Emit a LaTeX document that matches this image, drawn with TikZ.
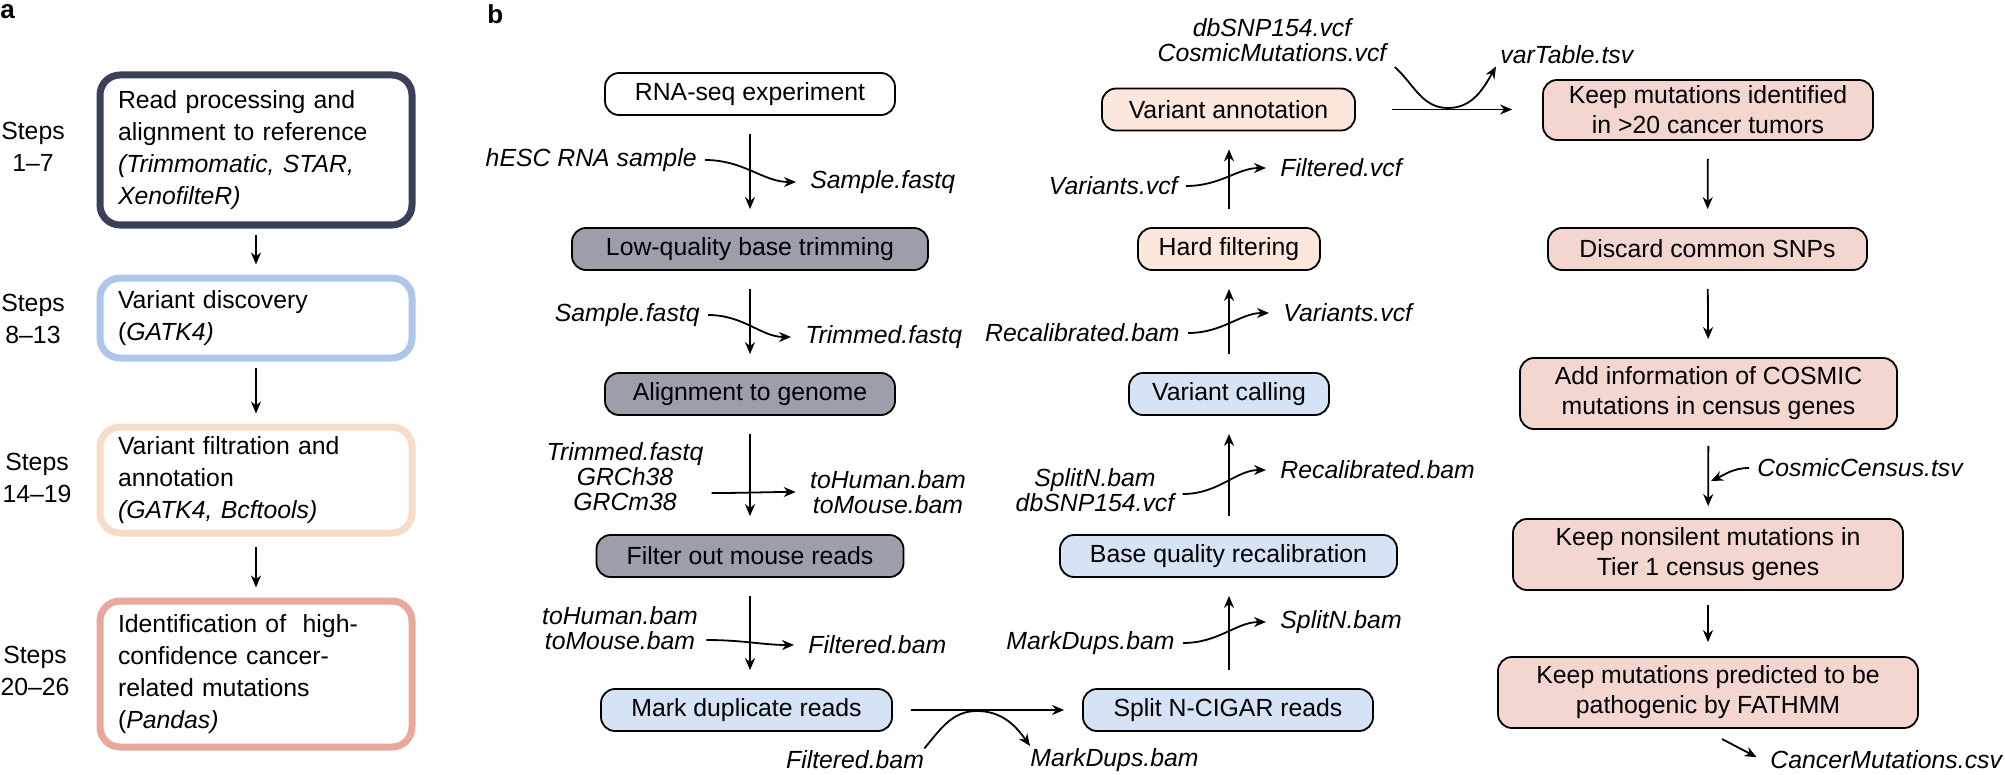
\documentclass[tikz,border=0pt]{standalone}
\usepackage{fontspec}
\setmainfont{Liberation Sans}
\usetikzlibrary{arrows.meta}
\definecolor{navy}{HTML}{3A3F5A}
\definecolor{ablue}{HTML}{ADC6EA}
\definecolor{apeach}{HTML}{F7DCC7}
\definecolor{asalmon}{HTML}{E8A99C}
\definecolor{fgray}{HTML}{9C9FAA}
\definecolor{fblue}{HTML}{D6E3F5}
\definecolor{fpeach}{HTML}{FBE7DC}
\definecolor{fpink}{HTML}{F3D6D0}
\begin{document}
\begin{tikzpicture}[x=0.5pt,y=-0.5pt,
  font=\fontsize{12.4}{12.5}\selectfont,
  abox/.style={draw,rounded corners=10pt,line width=3.5pt,minimum width=156pt,inner xsep=9pt,inner ysep=0pt,text width=138pt,align=left,font=\fontsize{12.4}{16}\selectfont},
  box/.style={draw,rounded corners=7pt,line width=0.9pt,inner sep=0pt,minimum height=21pt,align=center},
  rbox/.style={box,fill=fpink,font=\fontsize{12.4}{15}\selectfont},
  lab/.style={font=\fontsize{12.4}{12.5}\selectfont\itshape,inner xsep=4pt,inner ysep=1pt,align=center},
  flow/.style={-{Stealth[length=6pt,width=5pt]},line width=0.9pt,shorten <=9pt,shorten >=9pt},
  side/.style={-{Stealth[length=6pt,width=5pt]},line width=0.9pt},
  steps/.style={align=center,font=\fontsize{12.4}{16}\selectfont}]
\useasboundingbox (0,0) rectangle (2005,775);
% panel labels
\node[anchor=north west,inner sep=0pt,font=\fontsize{13}{13}\selectfont\bfseries] (pa) at (0,4) {a};
\node[anchor=north west,inner sep=0pt,font=\fontsize{13}{13}\selectfont\bfseries] (pb) at (487,4) {b};
% panel a
\node[abox,draw=navy,minimum height=75pt] (a1) at (256,150) {Read processing and\\alignment to reference\\\textit{(Trimmomatic, STAR,}\\\textit{XenofilteR)}};
\node[abox,draw=ablue,minimum height=40pt] (a2) at (256,318) {Variant discovery\\(\textit{GATK4)}};
\node[abox,draw=apeach,minimum height=53pt] (a3) at (256,480) {Variant filtration and\\annotation\\\textit{(GATK4, Bcftools)}};
\node[abox,draw=asalmon,minimum height=73pt] (a4) at (256,674) {Identification of\ \ high-\\confidence cancer-\\related mutations\\(\textit{Pandas)}};
\node[steps] (s1) at (33,147) {Steps\\1--7};
\node[steps] (s2) at (33,319) {Steps\\8--13};
\node[steps] (s3) at (37,478) {Steps\\14--19};
\node[steps] (s4) at (35,671) {Steps\\20--26};
\draw[flow,shorten <=3pt,shorten >=5pt] (a1) -- (a2);
\draw[flow,shorten <=3pt,shorten >=5pt] (a2) -- (a3);
\draw[flow,shorten <=5pt,shorten >=5pt] (a3) -- (a4);
% column 1
\node[box,fill=white,minimum width=145pt] (c1) at (750,94) {RNA-seq experiment};
\node[box,fill=fgray,minimum width=178pt] (c2) at (750,249) {Low-quality base trimming};
\node[box,fill=fgray,minimum width=145pt] (c3) at (750,394) {Alignment to genome};
\node[box,fill=fgray,minimum width=153.5pt] (c4) at (750,556) {Filter out mouse reads};
\node[box,fill=fblue,minimum width=145.5pt] (c5) at (746.5,710) {Mark duplicate reads};
\draw[flow] (c1) -- (c2);
\draw[flow] (c2) -- (c3);
\draw[flow] (c3) -- (c4);
\draw[flow] (c4.south) -- (c4.south |- c5.north);
\node[lab,anchor=east] (i1) at (705,160) {hESC RNA sample};
\node[lab,anchor=west] (o1) at (802,182) {Sample.fastq};
\node[lab,anchor=east] (i2) at (708,315) {Sample.fastq};
\node[lab,anchor=west] (o2) at (797,337) {Trimmed.fastq};
\node[lab] (i3) at (625,477) {Trimmed.fastq\\GRCh38\\GRCm38};
\node[lab] (o3) at (888,492) {toHuman.bam\\toMouse.bam};
\node[lab] (i4) at (620,628) {toHuman.bam\\toMouse.bam};
\node[lab,anchor=west] (o4) at (800,645) {Filtered.bam};
\draw[side,shorten >=3pt] (i1.east) to[out=0,in=180] (o1.west);
\draw[side,shorten >=3pt] (i2.east) to[out=0,in=180] (o2.west);
\draw[side,shorten >=3pt] ([yshift=-8]i3.east) to[out=0,in=180] (o3.west);
\draw[side,shorten >=3pt] ([yshift=-6]i4.east) to[out=0,in=180] (o4.west);
% column 2
\node[box,fill=fblue,minimum width=145pt] (d1) at (1228,710) {Split N-CIGAR reads};
\node[box,fill=fblue,minimum width=168.5pt] (d2) at (1228.5,556) {Base quality recalibration};
\node[box,fill=fblue,minimum width=100pt] (d3) at (1229,394) {Variant calling};
\node[box,fill=fpeach,minimum width=91pt] (d4) at (1229,249) {Hard filtering};
\node[box,fill=fpeach,minimum width=126.5pt] (d5) at (1228.5,109.5) {Variant annotation};
\draw[flow] (c5.east) -- (d1.west);
\draw[flow] (d1.north -| 1229,0) -- (d2.south -| 1229,0);
\draw[flow] (d2.north -| 1229,0) -- (d3.south -| 1229,0);
\draw[flow] (d3.north) -- (d4.south);
\draw[flow] (d4.north) -- (d5.south -| d4.north);
\node[lab] (fb) at (855,760) {Filtered.bam};
\node[lab,anchor=west] (md) at (1022,760) {MarkDups.bam};
\coordinate (peak) at (977,711);
\draw[line width=0.9pt] ([xshift=-4pt]fb.north east) to[out=50,in=180] (peak);
\draw[side] (peak) to[out=0,in=125] ([xshift=4pt]md.north west);
\node[lab,anchor=east] (j1) at (1183,643) {MarkDups.bam};
\node[lab,anchor=west] (p1) at (1272,622) {SplitN.bam};
\node[lab] (j2) at (1095,490) {SplitN.bam\\dbSNP154.vcf};
\node[lab,anchor=west] (p2) at (1272,470) {Recalibrated.bam};
\node[lab,anchor=east] (j3) at (1188,333) {Recalibrated.bam};
\node[lab,anchor=west] (p3) at (1275,313) {Variants.vcf};
\node[lab,anchor=east] (j4) at (1186,186) {Variants.vcf};
\node[lab,anchor=west] (p4) at (1272,168) {Filtered.vcf};
\draw[side,shorten >=3pt] (j1.east) to[out=0,in=180] (p1.west);
\draw[side,shorten >=3pt] ([yshift=-2]j2.east) to[out=0,in=180] (p2.west);
\draw[side,shorten >=3pt] (j3.east) to[out=0,in=180] (p3.west);
\draw[side,shorten >=3pt] (j4.east) to[out=0,in=180] (p4.west);
\node[lab] (cm) at (1272,40) {dbSNP154.vcf\\CosmicMutations.vcf};
\node[lab,anchor=west] (vt) at (1492,55) {varTable.tsv};
\coordinate (trough) at (1448,108);
\draw[line width=0.9pt] ([shift={(0,3)}]cm.south east) to[out=-42,in=180] (trough);
\draw[side] (trough) to[out=0,in=-120] ([xshift=2pt]vt.south west);
% right column
\node[rbox,minimum width=165pt,minimum height=30pt] (r1) at (1708,110) {Keep mutations identified\\in >20 cancer tumors};
\node[rbox,minimum width=159.5pt] (r2) at (1707.5,249) {Discard common SNPs};
\node[rbox,minimum width=188.5pt,minimum height=35.5pt] (r3) at (1708.5,393.5) {Add information of COSMIC\\mutations in census genes};
\node[rbox,minimum width=195pt,minimum height=35.5pt] (r4) at (1708,554.5) {Keep nonsilent mutations in\\Tier 1 census genes};
\node[rbox,minimum width=210pt,minimum height=35.5pt] (r5) at (1708,692.5) {Keep mutations predicted to be\\pathogenic by FATHMM};
\draw[flow,shorten <=18pt,shorten >=15pt] (d5.east) -- (r1.west |- d5.east);
\draw[flow] (r1) -- (r2);
\draw[flow] (r2) -- (r3);
\draw[flow,shorten <=8pt,shorten >=6pt] (r3) -- (r4);
\draw[flow,shorten <=7pt,shorten >=7pt] (r4) -- (r5);
\node[lab,anchor=west] (cc) at (1749,468) {CosmicCensus.tsv};
\coordinate (ccend) at (1711,481);
\draw[side] (cc.west) to[out=180,in=25] (ccend);
\node[lab,anchor=west] (csv) at (1762,760) {CancerMutations.csv};
\coordinate (csvs) at (1722,739);
\draw[side,shorten >=3pt] (csvs) -- (csv.west);
\end{tikzpicture}
\end{document}
